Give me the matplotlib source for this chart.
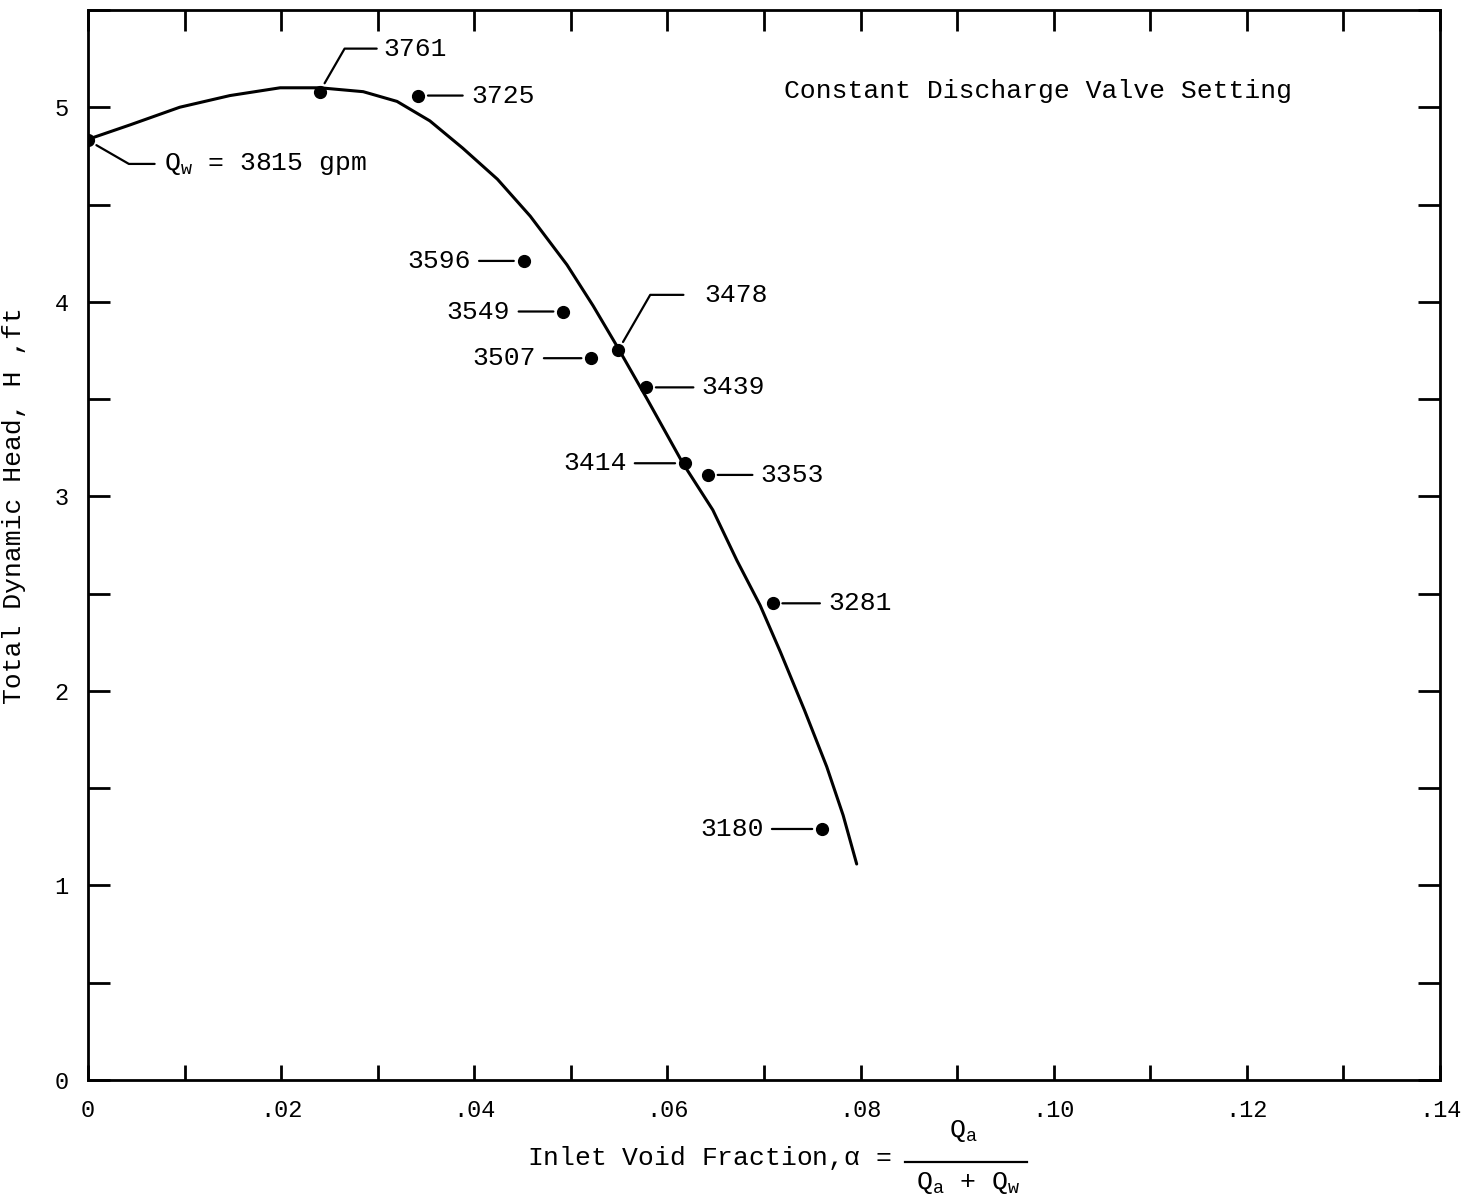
import matplotlib.pyplot as plt
from matplotlib.ticker import FixedLocator
from matplotlib.lines import Line2D

plt.rcParams['font.family'] = ['Liberation Mono', 'DejaVu Sans Mono']
plt.rcParams['mathtext.fontset'] = 'custom'
plt.rcParams['mathtext.rm'] = 'Liberation Mono'
plt.rcParams['mathtext.it'] = 'Liberation Mono'
plt.rcParams['mathtext.bf'] = 'Liberation Mono:bold'

# measured points: void fraction, head (ft), water flow label (gpm)
alpha = [0.0, 0.0240, 0.0342, 0.0451, 0.0492, 0.0521, 0.0549, 0.0578, 0.0618, 0.0642, 0.0709, 0.0760]
head = [4.83, 5.08, 5.06, 4.21, 3.95, 3.71, 3.75, 3.56, 3.17, 3.11, 2.45, 1.29]
flow = ['3815', '3761', '3725', '3596', '3549', '3507', '3478', '3439', '3414', '3353', '3281', '3180']

# faired curve through the data
curve_x = [0.0, 0.0044, 0.0095, 0.0147, 0.0199, 0.0240, 0.0285, 0.0320, 0.0354, 0.0388,
           0.0424, 0.0458, 0.0496, 0.0523, 0.0548, 0.0579, 0.0616, 0.0647, 0.0672, 0.0696,
           0.0717, 0.0742, 0.0765, 0.0782, 0.0796]
curve_y = [4.835, 4.91, 5.00, 5.06, 5.10, 5.10, 5.08, 5.03, 4.93, 4.79,
           4.63, 4.44, 4.19, 3.98, 3.77, 3.50, 3.17, 2.93, 2.67, 2.44,
           2.20, 1.90, 1.61, 1.36, 1.11]

# straight leaders: text offset in points (sign gives side)
label_off = {
    '3725': 38, '3596': -38, '3549': -38, '3507': -40,
    '3439': 40, '3414': -42, '3353': 38, '3281': 40, '3180': -42,
}

fig = plt.figure(figsize=(14.76, 12.01), dpi=100)
ax = fig.add_axes([0.0596, 0.1008, 0.916, 0.8909])

ax.plot(curve_x, curve_y, color='black', lw=2.2, solid_capstyle='round', solid_joinstyle='round')
ax.plot(alpha, head, 'o', color='black', ms=8.5)

ax.set_xlim(0, 0.14)
ax.set_ylim(0, 5.5)

lead = dict(arrowstyle='-', lw=1.6, color='black')
for a, h, q in zip(alpha, head, flow):
    if q in label_off:
        dx = label_off[q]
        ax.annotate(q, xy=(a, h), xytext=(dx, 0), textcoords='offset points',
                    ha='left' if dx > 0 else 'right', va='center', fontsize=19,
                    arrowprops=dict(lead, shrinkA=4, shrinkB=7))

# bent leaders
ax.annotate('3761', xy=(alpha[1], head[1]), xytext=(46, 31), textcoords='offset points',
            ha='left', va='center', fontsize=19,
            arrowprops=dict(lead, shrinkA=3, shrinkB=7, relpos=(0, 0.5),
                            connectionstyle='angle,angleA=0,angleB=60,rad=0'))
ax.annotate('3478', xy=(alpha[6], head[6]), xytext=(62, 40), textcoords='offset points',
            ha='left', va='center', fontsize=19,
            arrowprops=dict(lead, shrinkA=13, shrinkB=7, relpos=(0, 0.5),
                            connectionstyle='angle,angleA=0,angleB=60,rad=0'))
ax.annotate(r'$\mathregular{Q_w}$ = 3815 gpm', xy=(alpha[0], head[0]), xytext=(55, -17),
            textcoords='offset points', ha='left', va='center', fontsize=19,
            arrowprops=dict(lead, shrinkA=5, shrinkB=7, relpos=(0, 0.5),
                            connectionstyle='angle,angleA=0,angleB=-30,rad=0'))

ax.text(0.515, 0.924, 'Constant Discharge Valve Setting', transform=ax.transAxes,
        fontsize=19, ha='left', va='center')

# ticks on all four sides, pointing inward
xt = [i * 0.01 for i in range(15)]
yt = [i * 0.5 for i in range(12)]
ax.xaxis.set_major_locator(FixedLocator(xt))
ax.yaxis.set_major_locator(FixedLocator(yt))
ax.set_xticklabels(['0' if i == 0 else ('.%02d' % i if i % 2 == 0 else '') for i in range(15)])
ax.set_yticklabels([str(int(v)) if v == int(v) else '' for v in yt])
ax.tick_params(axis='x', direction='in', length=11, width=2,
               top=True, labeltop=False, pad=14, labelsize=17)
ax.tick_params(axis='y', direction='in', length=16, width=2,
               right=True, labelright=False, pad=14, labelsize=17)
for t in ax.xaxis.get_major_ticks():
    t.tick2line.set_markersize(15)

for s in ax.spines.values():
    s.set_linewidth(2)

ax.set_ylabel('Total Dynamic Head, H ,ft', fontsize=19)
ax.yaxis.set_label_coords(-0.046, 0.537)

# x-axis label with stacked fraction
fig.text(527 / 1476, 1 - 1158 / 1201, r'Inlet Void Fraction,$\alpha$ =', fontsize=19,
         ha='left', va='center')
fig.text(963 / 1476, 1 - 1131 / 1201, r'$\mathregular{Q_a}$', fontsize=19, ha='center', va='center')
fig.text(968 / 1476, 1 - 1183 / 1201, r'$\mathregular{Q_a}$ + $\mathregular{Q_w}$', fontsize=19,
         ha='center', va='center')
fig.add_artist(Line2D([905 / 1476, 1027 / 1476], [1 - 1162 / 1201, 1 - 1162 / 1201],
                      color='black', lw=1.6))

fig.savefig('out.png', dpi=100)
